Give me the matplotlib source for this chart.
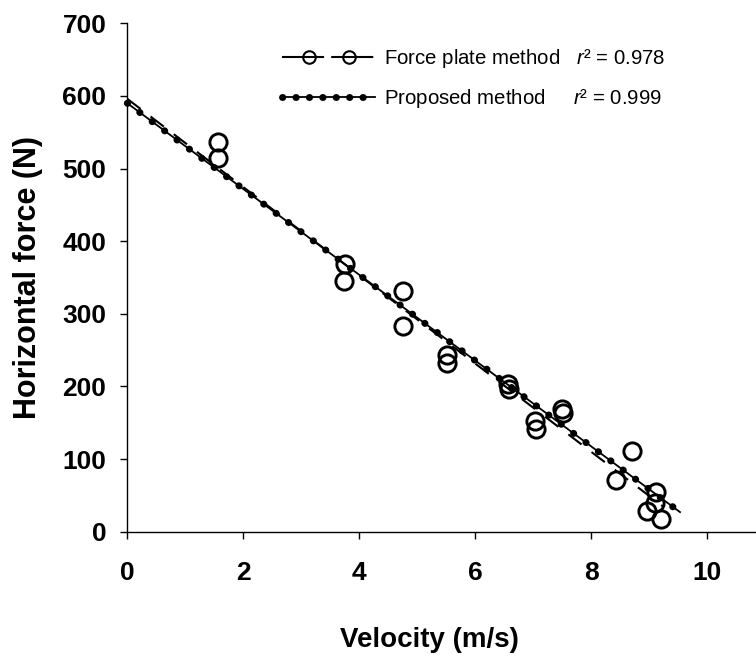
import matplotlib
matplotlib.use('Agg')
import matplotlib.pyplot as plt
from matplotlib.lines import Line2D
from matplotlib.legend_handler import HandlerLine2D

plt.rcParams['font.family'] = 'Liberation Sans'
plt.rcParams['mathtext.fontset'] = 'custom'
plt.rcParams['mathtext.it'] = 'Liberation Sans:italic'
plt.rcParams['mathtext.rm'] = 'Liberation Sans'

# force plate method: measured points
fp_velocity = [1.57, 1.57, 3.76, 3.73, 4.76, 4.76, 5.52, 5.52, 6.56, 6.58,
               7.03, 7.05, 7.50, 7.52, 8.42, 8.70, 9.12, 9.10, 8.96, 9.20]
fp_force = [536, 514, 368, 345, 332, 283, 243, 232, 203, 197,
            152, 141, 169, 164, 71, 111, 54, 40, 28, 18]
# regression line of the force plate data (end points)
fp_fit_velocity = [0, 9.25]
fp_fit_force = [596, 34]
# proposed method line (end points)
pm_velocity = [0, 9.53]
pm_force = [590, 27]

methods = ['Force plate method', 'Proposed method']
r2_values = [0.978, 0.999]
x_ticks = [0, 2, 4, 6, 8, 10]
y_ticks = [0, 100, 200, 300, 400, 500, 600, 700]

fig = plt.figure(figsize=(7.56, 6.57), dpi=100)
ax = fig.add_axes([0.1684, 0.1907, 0.8316, 0.7738])

# proposed method: thin line + round dots
ax.plot(pm_velocity, pm_force, color='black', lw=1.3, clip_on=False, zorder=2)
ax.plot(pm_velocity, pm_force, color='black', lw=5, ls=(0, (0.05, 2.17)),
        dash_capstyle='round', clip_on=False, zorder=2)
# force plate regression, dashed
ax.plot(fp_fit_velocity, fp_fit_force, color='black', lw=1.5, dashes=(8, 6),
        clip_on=False, zorder=3)
# force plate points
ax.plot(fp_velocity, fp_force, ls='none', marker='o', ms=12.4, mfc='none',
        mec='black', mew=2.1, clip_on=False, zorder=4)

ax.set_xlim(0, 10.84)
ax.set_ylim(0, 700)
ax.set_xticks(x_ticks)
ax.set_yticks(y_ticks)
ax.spines['top'].set_visible(False)
ax.spines['right'].set_visible(False)
for s in ['left', 'bottom']:
    ax.spines[s].set_linewidth(1.0)
ax.tick_params(direction='out', length=5, width=1, labelsize=19)
ax.tick_params(axis='x', pad=16)
ax.tick_params(axis='y', pad=10)
plt.setp(ax.get_xticklabels() + ax.get_yticklabels(), fontweight='bold')

ax.set_xlabel('Velocity (m/s)', fontsize=20, fontweight='bold', labelpad=30)
ax.xaxis.label.set_x(0.48)
ax.set_ylabel('Horizontal force (N)', fontsize=22, fontweight='bold', labelpad=14)

# legend
fp_line = Line2D([], [], color='black', lw=1.5, dashes=(20.2, 3.4))
fp_mark = Line2D([], [], ls='none', marker='o', ms=9, mfc='none', mec='black', mew=1.5)
pm_line = Line2D([], [], color='black', lw=1.3)
pm_dots = Line2D([], [], color='black', lw=5, ls=(0, (0.05, 1.88)), dash_capstyle='round')
labels = [methods[0] + '   $r$² = ' + str(r2_values[0]),
          methods[1] + '     $r$² = ' + str(r2_values[1])]
ax.legend([(fp_line, fp_mark), (pm_line, pm_dots)], labels,
          loc='upper left', bbox_to_anchor=(0.246, 0.953), frameon=False,
          fontsize=14.7, handlelength=4.56, handletextpad=0.44, labelspacing=0.82,
          borderpad=0, borderaxespad=0,
          handler_map={fp_mark: HandlerLine2D(numpoints=2, marker_pad=1.3)})

fig.savefig('out.png', dpi=100)
